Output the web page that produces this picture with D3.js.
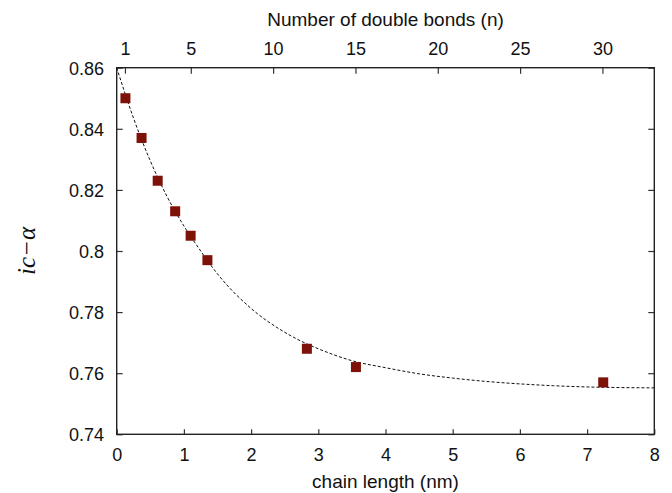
<!DOCTYPE html>
<html>
<head>
<meta charset="utf-8">
<script src="https://cdn.jsdelivr.net/npm/d3@7"></script>
<style>
  body { margin: 0; background: #fff; }
  svg text { font-family: "Liberation Sans", Arial, sans-serif; fill: #111; }
</style>
</head>
<body>
<svg id="chart" width="672" height="493"></svg>
<script>
// measured points: chain length (nm) vs ic-alpha
const chainLength = [0.13, 0.37, 0.61, 0.87, 1.10, 1.35, 2.83, 3.56, 7.24];
const icAlpha = [0.850, 0.837, 0.823, 0.813, 0.805, 0.797, 0.768, 0.762, 0.757];

// dashed fit curve
const fitLength = [0, 0.25, 0.5, 0.75, 1.0, 1.25, 1.5, 2.0, 2.5, 2.83, 3.0, 3.5, 4.0, 4.5, 5.0, 5.5, 6.0, 6.5, 7.0, 7.5, 8.0];
const fitAlpha = [0.860, 0.8435, 0.8295, 0.8178, 0.8082, 0.8000, 0.7925, 0.7812, 0.7734, 0.7696, 0.7680, 0.7641, 0.7618, 0.7598, 0.7584, 0.7573, 0.7565, 0.7559, 0.7555, 0.7553, 0.7552];

const xTicks = [0, 1, 2, 3, 4, 5, 6, 7, 8];
const yTicks = [0.74, 0.76, 0.78, 0.80, 0.82, 0.84, 0.86];
const nTicks = [1, 5, 10, 15, 20, 25, 30];
const nDomain = [0.5, 33.15];

const svg = d3.select("#chart");
const margin = {top: 67.7, right: 17.7, bottom: 58.7, left: 116.7};
const width = 672 - margin.left - margin.right;
const height = 493 - margin.top - margin.bottom;
const g = svg.append("g").attr("transform", "translate(" + margin.left + "," + margin.top + ")");

const x = d3.scaleLinear().domain([0, 8]).range([0, width]);
const xn = d3.scaleLinear().domain(nDomain).range([0, width]);
const y = d3.scaleLinear().domain([0.74, 0.86]).range([height, 0]);

function styleAxis(sel) {
  sel.select(".domain").remove();
  sel.selectAll(".tick line").attr("stroke", "#333").attr("stroke-width", 1.2);
  sel.selectAll(".tick text").style("font-size", "18px").attr("fill", "#111");
}

// bottom axis, ticks inward
g.append("g")
  .attr("transform", "translate(0," + height + ")")
  .call(d3.axisBottom(x).tickValues(xTicks).tickSize(-5).tickSizeOuter(0).tickFormat(d3.format("d")))
  .call(styleAxis)
  .call(s => s.selectAll(".tick text").attr("y", 26.7).attr("dy", 0));

// top axis: number of double bonds
g.append("g")
  .call(d3.axisTop(xn).tickValues(nTicks).tickSize(-6).tickSizeOuter(0).tickFormat(d3.format("d")))
  .call(styleAxis)
  .call(s => s.selectAll(".tick text").attr("y", -12.7).attr("dy", 0));

// left axis
g.append("g")
  .call(d3.axisLeft(y).tickValues(yTicks).tickSize(-6).tickSizeOuter(0).tickFormat(d => String(+d.toFixed(2))))
  .call(styleAxis)
  .call(s => s.selectAll(".tick text").attr("x", -12.7).attr("dy", "0.36em"));

// right mirror ticks
g.append("g")
  .attr("transform", "translate(" + width + ",0)")
  .call(d3.axisRight(y).tickValues(yTicks).tickSize(-6).tickSizeOuter(0).tickFormat(""))
  .call(styleAxis);

// frame
g.append("rect")
  .attr("width", width).attr("height", height)
  .attr("fill", "none").attr("stroke", "#222").attr("stroke-width", 1.4);

// fit curve
const fit = fitLength.map((d, i) => ({x: d, y: fitAlpha[i]}));
g.append("path")
  .datum(fit)
  .attr("fill", "none")
  .attr("stroke", "#111")
  .attr("stroke-width", 1)
  .attr("stroke-dasharray", "3,2")
  .attr("d", d3.line().x(d => x(d.x)).y(d => y(d.y)).curve(d3.curveMonotoneX));

// points
const sq = 10;
g.selectAll(".pt")
  .data(chainLength.map((d, i) => ({x: d, y: icAlpha[i]})))
  .enter().append("rect")
  .attr("class", "pt")
  .attr("x", d => x(d.x) - sq / 2)
  .attr("y", d => y(d.y) - sq / 2)
  .attr("width", sq).attr("height", sq)
  .attr("fill", "#7e1108");

// titles
svg.append("text")
  .attr("x", margin.left + width / 2).attr("y", 26)
  .attr("text-anchor", "middle").style("font-size", "19px")
  .text("Number of double bonds (n)");

svg.append("text")
  .attr("x", margin.left + width / 2).attr("y", 488)
  .attr("text-anchor", "middle").style("font-size", "19px")
  .text("chain length (nm)");

svg.append("text")
  .attr("transform", "translate(35,251) rotate(-90)")
  .attr("text-anchor", "middle")
  .style("font-family", "'Liberation Serif', 'Times New Roman', serif")
  .style("font-style", "italic")
  .style("font-size", "25px")
  .text("ic\u2212\u03b1");
</script>
</body>
</html>
